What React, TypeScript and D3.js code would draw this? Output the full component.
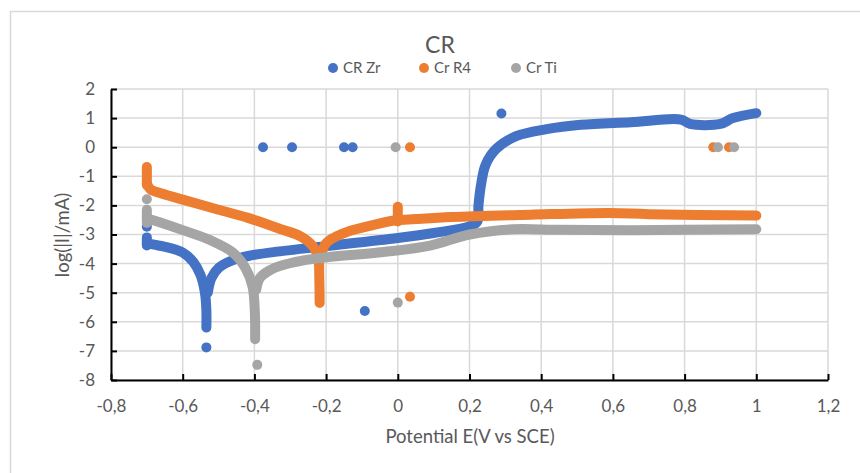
import React, { useRef, useEffect } from 'react';
import * as d3 from 'd3';

type Pt = [number, number];

const seriesNames = ['CR Zr', 'Cr R4', 'Cr Ti'];
const seriesColors = ['#4472C4', '#ED7D31', '#A5A5A5'];

const xTicks = [-0.8, -0.6, -0.4, -0.2, 0, 0.2, 0.4, 0.6, 0.8, 1, 1.2];
const yTicks = [2, 1, 0, -1, -2, -3, -4, -5, -6, -7, -8];

const zrRuns: Pt[][] = [
  [[-0.7, -3.1], [-0.7, -3.38]],
  [[-0.7, -3.3], [-0.68, -3.35], [-0.64, -3.45], [-0.6, -3.62], [-0.57, -3.95], [-0.55, -4.4], [-0.538, -5.0], [-0.534, -5.6], [-0.534, -6.2]],
  [[-0.53, -5.0], [-0.52, -4.5], [-0.5, -4.15], [-0.46, -3.88], [-0.41, -3.72], [-0.33, -3.58], [-0.2, -3.4], [0.0, -3.12], [0.1, -2.95], [0.2, -2.72], [0.222, -2.55], [0.225, -2.0], [0.232, -1.3], [0.245, -0.6], [0.275, -0.05], [0.33, 0.38], [0.415, 0.62], [0.51, 0.77], [0.65, 0.86], [0.79, 0.95], [0.815, 0.8], [0.9, 0.8], [0.935, 1.0], [1.0, 1.17]],
];
const r4Runs: Pt[][] = [
  [[-0.7, -0.68], [-0.7, -1.3]],
  [[-0.7, -1.25], [-0.69, -1.45], [-0.67, -1.55], [-0.6, -1.8], [-0.5, -2.15], [-0.42, -2.42], [-0.33, -2.8], [-0.27, -3.07], [-0.237, -3.4], [-0.222, -3.8], [-0.219, -4.5], [-0.218, -5.35]],
  [[-0.215, -3.8], [-0.2, -3.3], [-0.15, -2.95], [-0.087, -2.73], [-0.01, -2.52], [0.05, -2.47], [0.15, -2.4], [0.37, -2.32], [0.59, -2.26], [0.7, -2.3], [1.0, -2.35]],
  [[0.0, -2.55], [0.0, -2.05]],
];
const tiRuns: Pt[][] = [
  [[-0.7, -2.15], [-0.7, -2.6]],
  [[-0.7, -2.45], [-0.68, -2.52], [-0.6, -2.85], [-0.524, -3.19], [-0.46, -3.62], [-0.425, -4.15], [-0.405, -4.8], [-0.399, -5.6], [-0.398, -6.6]],
  [[-0.395, -4.9], [-0.385, -4.5], [-0.36, -4.25], [-0.32, -4.05], [-0.227, -3.82], [-0.04, -3.6], [0.09, -3.38], [0.2, -3.0], [0.32, -2.82], [0.45, -2.84], [0.65, -2.85], [1.0, -2.82]],
];

// isolated points
const zrPoints: Pt[] = [[-0.7, -2.73], [-0.534, -6.88], [-0.376, 0], [-0.295, 0], [-0.15, 0], [-0.126, 0], [-0.092, -5.63], [0.289, 1.16]];
const r4Points: Pt[] = [[0.034, 0], [0.034, -5.14], [0.88, 0], [0.924, 0]];
const tiPoints: Pt[] = [[-0.7, -1.79], [-0.392, -7.48], [-0.006, 0], [0.0, -5.34], [0.893, 0], [0.938, 0]];

const allRuns = [zrRuns, r4Runs, tiRuns];
const allPoints = [zrPoints, r4Points, tiPoints];

const W = 860;
const H = 473;
const font = 'Lato, "Open Sans", sans-serif';
const textColor = '#595959';

const App = () => {
  const ref = useRef<SVGSVGElement>(null);

  useEffect(() => {
    const svg = d3.select(ref.current);
    svg.selectAll('*').remove();

    const left = 111, right = 828, top = 89, bottom = 380;

    const x = d3.scaleLinear().domain([-0.8, 1.2]).range([left, right]);
    const y = d3.scaleLinear().domain([-8, 2]).range([bottom, top]);
    const fmt = (d: number) => String(Math.round(d * 10) / 10).replace('.', ',');

    // chart frame
    svg.append('rect')
      .attr('width', W).attr('height', H).attr('fill', 'white');
    svg.append('rect')
      .attr('x', 10.5).attr('y', 11.5).attr('width', 900).attr('height', 500)
      .attr('fill', 'white').attr('stroke', '#d9d9d9').attr('stroke-width', 1.5);

    // gridlines
    const grid = svg.append('g').attr('stroke', '#d9d9d9').attr('stroke-width', 1.5);
    grid.selectAll('.gx').data(xTicks).enter().append('line')
      .attr('x1', d => x(d)).attr('x2', d => x(d)).attr('y1', top).attr('y2', bottom);
    grid.selectAll('.gy').data(yTicks).enter().append('line')
      .attr('x1', left).attr('x2', right).attr('y1', d => y(d)).attr('y2', d => y(d));

    // axes
    const xAxis = svg.append('g')
      .attr('transform', `translate(0,${bottom})`)
      .call(d3.axisBottom(x).tickValues(xTicks).tickSizeInner(-6).tickSizeOuter(0).tickPadding(20).tickFormat(d => fmt(+d)));
    const yAxis = svg.append('g')
      .attr('transform', `translate(${left},0)`)
      .call(d3.axisLeft(y).tickValues(yTicks).tickSizeInner(-6).tickSizeOuter(0).tickPadding(16).tickFormat(d => fmt(+d)));
    [xAxis, yAxis].forEach(a => {
      a.select('.domain').attr('stroke', 'black').attr('stroke-width', 2);
      a.selectAll('.tick line').attr('stroke', 'black').attr('stroke-width', 2);
      a.selectAll('.tick text').attr('fill', textColor).style('font-family', font).style('font-size', '17px');
    });

    // series
    const line = d3.line<Pt>()
      .x(d => x(d[0]))
      .y(d => y(d[1]))
      .curve(d3.curveCatmullRom.alpha(0.5));

    allRuns.forEach((runs, i) => {
      const g = svg.append('g');
      g.selectAll('path').data(runs).enter().append('path')
        .attr('d', d => line(d))
        .attr('fill', 'none')
        .attr('stroke', seriesColors[i])
        .attr('stroke-width', 10)
        .attr('stroke-linecap', 'round')
        .attr('stroke-linejoin', 'round');
      g.selectAll('circle').data(allPoints[i]).enter().append('circle')
        .attr('cx', d => x(d[0]))
        .attr('cy', d => y(d[1]))
        .attr('r', 5)
        .attr('fill', seriesColors[i]);
    });

    // title
    svg.append('text')
      .attr('x', 440).attr('y', 53)
      .attr('text-anchor', 'middle')
      .attr('fill', textColor)
      .style('font-family', font).style('font-size', '23px')
      .text('CR');

    // legend
    const legendX = [333, 424, 516];
    const legend = svg.append('g');
    seriesNames.forEach((name, i) => {
      legend.append('circle')
        .attr('cx', legendX[i]).attr('cy', 68).attr('r', 5)
        .attr('fill', seriesColors[i]);
      legend.append('text')
        .attr('x', legendX[i] + 10).attr('y', 73)
        .attr('fill', textColor)
        .style('font-family', font).style('font-size', '15px')
        .text(name);
    });

    // axis titles
    svg.append('text')
      .attr('x', 470).attr('y', 443)
      .attr('text-anchor', 'middle')
      .attr('fill', textColor)
      .style('font-family', font).style('font-size', '18.5px')
      .text('Potential E(V vs SCE)');
    svg.append('text')
      .attr('transform', 'translate(69,235) rotate(-90)')
      .attr('text-anchor', 'middle')
      .attr('fill', textColor)
      .style('font-family', font).style('font-size', '18.5px')
      .text('log(|I|/mA)');
  }, []);

  return (
    <svg ref={ref} width={W} height={H}
      style={{ position: 'absolute', left: 0, top: 0, display: 'block' }} />
  );
};

export default App;
